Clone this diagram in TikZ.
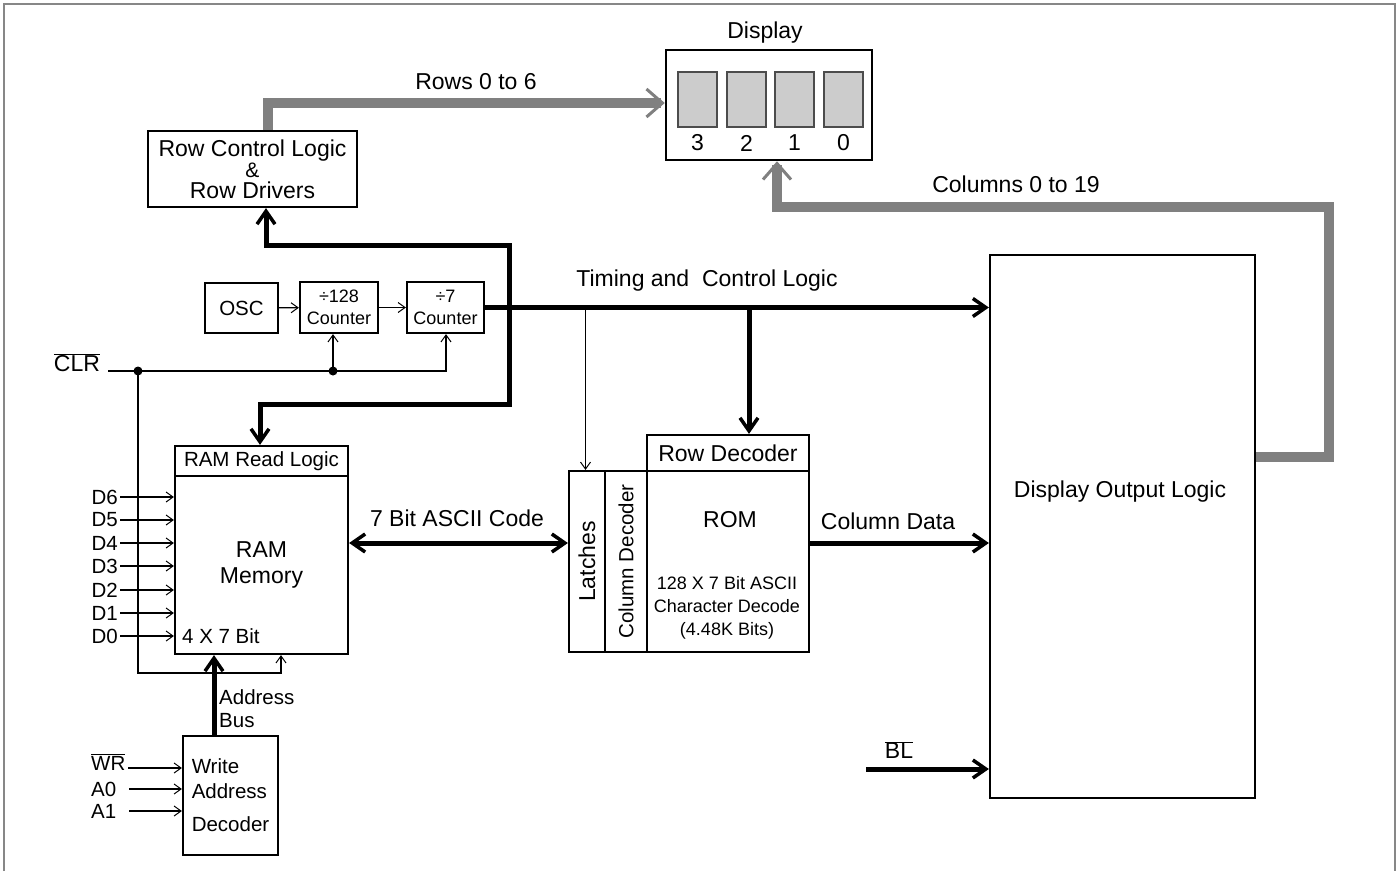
\documentclass[tikz,border=0pt]{standalone}
\usepackage{fontspec}
\setmainfont{Liberation Sans}
\usetikzlibrary{arrows.meta, positioning, calc}
\definecolor{busgray}{RGB}{128,128,128}
\definecolor{cellgray}{RGB}{204,204,204}
\definecolor{framegray}{RGB}{135,135,135}
\newcommand{\fbig}{\fontsize{23}{26}\selectfont}
\newcommand{\fmid}{\fontsize{20.5}{23}\selectfont}
\newcommand{\fsml}{\fontsize{18}{22}\selectfont}

\begin{document}
\begin{tikzpicture}[x=1pt, y=-1pt,
  blk/.style={draw, line width=2.2pt, inner sep=0pt, font=\fbig, align=center},
  lab/.style={font=\fbig, inner sep=0pt},
  sig/.style={line width=1.3pt, -{Straight Barb[length=7pt,width=10pt,line width=1pt]}},
  bus/.style={line width=5pt, -{Straight Barb[length=13pt,width=18pt,line width=3.5pt]}},
  busboth/.style={line width=5pt, {Straight Barb[length=13pt,width=18pt,line width=3.5pt]}-{Straight Barb[length=13pt,width=18pt,line width=3.5pt]}},
  gbus/.style={draw=busgray, line width=10pt, -{Straight Barb[length=16pt,width=28pt,line width=3pt]}}]
  \useasboundingbox (0,0) rectangle (1399,871);
  % frame
  \draw[framegray, line width=2pt] (4,871) -- (4,4) -- (1395,4) -- (1395,871);

  % display
  \node[blk, line width=2.5pt, minimum width=206, minimum height=110] (disp) at (769,105) {};
  \node[lab] (displab) at (765,33) {Display};
  \foreach \i/\x/\d in {1/697.5/3, 2/746.5/2, 3/794.5/1, 4/843.5/0}{
    \node[draw=black!70, fill=cellgray, line width=1.2pt, minimum width=39, minimum height=55, inner sep=0pt] (cell\i) at (\x,99.5) {};
    \node[lab] (dig\i) at (\x,143) {\d};
  }

  % row control
  \node[blk, minimum width=209, minimum height=76, font=\fontsize{23}{21}\selectfont] (rowctl) at (252.5,169) {Row Control Logic\\{\fontsize{21}{21}\selectfont\&}\\Row Drivers};

  % clock chain
  \node[blk, font=\fmid, minimum width=73, minimum height=50] (osc) at (241.5,308) {OSC};
  \node[blk, font=\fsml, minimum width=78, minimum height=51] (div128) at (339,307.5) {÷128\\Counter};
  \node[blk, font=\fsml, minimum width=77, minimum height=51] (div7) at (445.5,307.5) {÷7\\Counter};
  \draw[sig] (osc) -- (div128);
  \draw[sig] (div128) -- (div7);

  % RAM
  \node[blk, font=\fmid, minimum width=173, minimum height=30] (ramrd) at (261.5,461) {RAM Read Logic};
  \node[blk, minimum width=173, minimum height=178] (rammem) at (261.5,565) {RAM\\Memory};
  \node[lab, font=\fmid, anchor=west] (ramsize) at (182,636) {4 X 7 Bit};
  \foreach \n/\y in {6/497,5/520,4/543,3/566,2/590,1/613,0/636}{
    \node[lab, font=\fmid, anchor=east, inner xsep=2pt] (d\n) at (120,\y) {D\n};
    \draw[sig] (d\n.east) -- (d\n.east -| rammem.west);
  }

  % clear line
  \node[lab] (clr) at (77,363) {$\overline{\hbox{CLR}}$};
  \coordinate (clrin) at (108,371);
  \coordinate (j1) at (138,371);
  \coordinate (j2) at (333,371);
  \coordinate (j3) at (281,673);
  \draw[sig] (clrin) -| ([xshift=0.5pt]div7.south);
  \draw[sig] (j2) -- (j2 |- div128.south);
  \draw[sig] (j1) |- (j3) -- (j3 |- rammem.south);
  \fill (j1) circle (4.5);
  \fill (j2) circle (4.5);

  % write address decoder
  \node[blk, font=\fontsize{20.5}{25}\selectfont, align=left, minimum width=95, minimum height=119] (wad) at (230.5,795.5) {Write\\Address\\[8pt]Decoder};
  \node[lab, font=\fmid, anchor=west, text width=37pt] (wr) at (91,762) {$\overline{\hbox{WR}}$};
  \node[lab, font=\fmid, anchor=west, text width=38pt] (a0) at (91,789) {A0};
  \node[lab, font=\fmid, anchor=west, text width=38pt] (a1) at (91,811) {A1};
  \draw[sig] ([yshift=-6pt]wr.east) -- ([yshift=-6pt]wr.east -| wad.west);
  \draw[sig] (a0.east) -- (a0.east -| wad.west);
  \draw[sig] (a1.east) -- (a1.east -| wad.west);
  \draw[bus] ([xshift=-16.5pt]wad.north) -- ([xshift=-16.5pt]wad.north |- rammem.south);
  \node[lab, font=\fmid, align=left, anchor=west] (addrlab) at (219,709) {Address\\Bus};

  % ROM block
  \node[blk, minimum width=36, minimum height=181, label={[rotate=90, font=\fbig]center:Latches}] (latch) at (587,561.5) {};
  \node[blk, minimum width=42, minimum height=181, label={[rotate=90, font=\fmid]center:Column Decoder}] (coldec) at (626,561.5) {};
  \node[blk, minimum width=162, minimum height=36] (rowdec) at (728,453) {Row Decoder};
  \node[blk, minimum width=162, minimum height=181] (rom) at (728,561.5) {};
  \node[lab] (romlab) at (730,520) {ROM};
  \node[lab, font=\fontsize{18}{23}\selectfont, align=center] (romtxt) at (727,608) {128 X 7 Bit ASCII\\Character Decode\\(4.48K Bits)};

  % display output logic
  \node[blk, minimum width=265, minimum height=543] (dol) at (1122.5,526.5) {};
  \node[lab] (dollab) at (1120,492) {Display Output Logic};

  % rows and columns buses
  \draw[gbus] ([xshift=15.5pt]rowctl.north) |- ([yshift=2pt]disp.west);
  \node[lab] (rowslab) at (476,82) {Rows 0 to 6};
  \draw[gbus] ([yshift=69.5pt]dol.east) -| (1329,207) -| ([xshift=8pt]disp.south);
  \node[lab] (colslab) at (1016,184) {Columns 0 to 19};

  % timing and control
  \draw[busboth] ([xshift=13.5pt]rowctl.south) |- (509,245) |- (260,404) -- ([xshift=-1.5pt]ramrd.north);
  \draw[bus] (div7.east) -- (div7.east -| dol.west);
  \node[lab] (timlab) at (707,281) {Timing and\ \ Control Logic};
  \draw[sig] ([xshift=-1.5pt]latch.north |- div7.east) -- ([xshift=-1.5pt]latch.north);
  \draw[bus] ([xshift=21pt]rowdec.north |- div7.east) -- ([xshift=21pt]rowdec.north);

  % data paths
  \draw[busboth] ([yshift=22pt]rammem.east) -- ([yshift=22pt]rammem.east -| latch.west);
  \node[lab] (asciilab) at (457,518) {7 Bit ASCII Code};
  \draw[bus] ([yshift=18.5pt]rom.east) -- ([yshift=18.5pt]rom.east -| dol.west);
  \node[lab] (coldlab) at (888,521) {Column Data};
  \coordinate (blin) at (866,769);
  \draw[bus] (blin) -- (blin -| dol.west);
  \node[lab] (bl) at (899,750) {$\overline{\hbox{BL}}$};
\end{tikzpicture}
\end{document}
